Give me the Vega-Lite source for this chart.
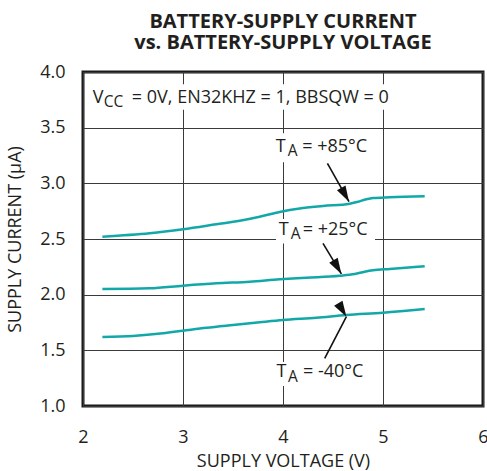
{
  "$schema": "https://vega.github.io/schema/vega-lite/v6.json",
  "width": 400,
  "height": 334,
  "autosize": {"type": "none"},
  "padding": {"left": 83, "top": 72, "right": 4, "bottom": 65},
  "background": "white",
  "title": {
    "text": ["BATTERY-SUPPLY CURRENT", "vs. BATTERY-SUPPLY VOLTAGE"],
    "font": "Open Sans",
    "fontSize": 20,
    "fontWeight": "bold",
    "color": "#231f20",
    "anchor": "middle",
    "frame": "group",
    "offset": 10,
    "lineHeight": 21
  },
  "config": {
    "view": {"stroke": "#1a1a1a", "strokeWidth": 3},
    "font": "Open Sans",
    "axis": {
      "labelFont": "Open Sans",
      "labelFontSize": 18,
      "labelColor": "#231f20",
      "titleFont": "Open Sans",
      "titleFontSize": 18,
      "titleFontWeight": "normal",
      "titleColor": "#231f20",
      "gridColor": "#3a3a3a",
      "gridWidth": 1,
      "gridOpacity": 1,
      "ticks": false,
      "domain": false,
      "labelOverlap": false,
      "labelBound": false
    }
  },
  "datasets": {
    "curves": [
      {"series": "85", "x": 2.194, "y": 2.521},
      {"series": "85", "x": 2.667, "y": 2.551},
      {"series": "85", "x": 3.0, "y": 2.587},
      {"series": "85", "x": 3.334, "y": 2.632},
      {"series": "85", "x": 3.567, "y": 2.664},
      {"series": "85", "x": 3.767, "y": 2.7},
      {"series": "85", "x": 3.967, "y": 2.743},
      {"series": "85", "x": 4.167, "y": 2.774},
      {"series": "85", "x": 4.4, "y": 2.796},
      {"series": "85", "x": 4.667, "y": 2.817},
      {"series": "85", "x": 4.75, "y": 2.835},
      {"series": "85", "x": 4.834, "y": 2.857},
      {"series": "85", "x": 4.9, "y": 2.868},
      {"series": "85", "x": 5.067, "y": 2.875},
      {"series": "85", "x": 5.417, "y": 2.884},
      {"series": "25", "x": 2.194, "y": 2.051},
      {"series": "25", "x": 2.667, "y": 2.057},
      {"series": "25", "x": 3.0, "y": 2.081},
      {"series": "25", "x": 3.334, "y": 2.102},
      {"series": "25", "x": 3.667, "y": 2.117},
      {"series": "25", "x": 3.967, "y": 2.138},
      {"series": "25", "x": 4.234, "y": 2.152},
      {"series": "25", "x": 4.567, "y": 2.17},
      {"series": "25", "x": 4.717, "y": 2.186},
      {"series": "25", "x": 4.817, "y": 2.206},
      {"series": "25", "x": 4.9, "y": 2.219},
      {"series": "25", "x": 5.067, "y": 2.231},
      {"series": "25", "x": 5.417, "y": 2.255},
      {"series": "-40", "x": 2.194, "y": 1.62},
      {"series": "-40", "x": 2.5, "y": 1.629},
      {"series": "-40", "x": 2.8, "y": 1.653},
      {"series": "-40", "x": 3.0, "y": 1.676},
      {"series": "-40", "x": 3.234, "y": 1.703},
      {"series": "-40", "x": 3.5, "y": 1.728},
      {"series": "-40", "x": 3.767, "y": 1.752},
      {"series": "-40", "x": 4.0, "y": 1.772},
      {"series": "-40", "x": 4.334, "y": 1.793},
      {"series": "-40", "x": 4.634, "y": 1.817},
      {"series": "-40", "x": 5.0, "y": 1.838},
      {"series": "-40", "x": 5.417, "y": 1.871}
    ],
    "masks": [
      {"x": 2.05, "x2": 5.09, "y": 3.66, "y2": 3.89},
      {"x": 3.89, "x2": 4.91, "y": 3.19, "y2": 3.45},
      {"x": 3.93, "x2": 4.92, "y": 2.46, "y2": 2.68},
      {"x": 3.89, "x2": 4.89, "y": 1.18, "y2": 1.395}
    ],
    "arrows": [
      {"label": "85", "x": 4.66, "y": 2.835, "x2": 4.444, "y2": 3.18},
      {"label": "25", "x": 4.584, "y": 2.186, "x2": 4.4, "y2": 2.461},
      {"label": "-40", "x": 4.634, "y": 1.802, "x2": 4.417, "y2": 1.428}
    ],
    "texts": [
      {"x": 2.097, "y": 3.719, "text": "V"},
      {"x": 2.488, "y": 3.719, "text": "= 0V, EN32KHZ = 1, BBSQW = 0"},
      {"x": 3.927, "y": 3.281, "text": "T"},
      {"x": 4.192, "y": 3.281, "text": "= +85°C"},
      {"x": 3.957, "y": 2.536, "text": "T"},
      {"x": 4.197, "y": 2.536, "text": "= +25°C"},
      {"x": 3.934, "y": 1.258, "text": "T"},
      {"x": 4.2, "y": 1.258, "text": "= -40°C"}
    ],
    "subs": [
      {"x": 2.207, "y": 3.688, "text": "CC"},
      {"x": 4.047, "y": 3.246, "text": "A"},
      {"x": 4.077, "y": 2.5, "text": "A"},
      {"x": 4.05, "y": 1.22, "text": "A"}
    ]
  },
  "encoding": {
    "x": {
      "field": "x",
      "type": "quantitative",
      "scale": {"domain": [2, 6], "nice": false, "zero": false},
      "axis": {
        "title": "SUPPLY VOLTAGE (V)",
        "values": [2, 3, 4, 5, 6],
        "format": "d",
        "grid": true,
        "labelFlush": false,
        "labelPadding": 22,
        "titlePadding": 6
      }
    },
    "y": {
      "field": "y",
      "type": "quantitative",
      "scale": {"domain": [1, 4], "nice": false, "zero": false},
      "axis": {
        "title": "SUPPLY CURRENT (µA)",
        "values": [1, 1.5, 2, 2.5, 3, 3.5, 4],
        "format": ".1f",
        "grid": true,
        "labelPadding": 18,
        "titlePadding": 15
      }
    }
  },
  "layer": [
    {
      "data": {"name": "curves"},
      "mark": {"type": "line", "color": "#13a8a8", "strokeWidth": 2.5, "interpolate": "monotone"},
      "encoding": {"detail": {"field": "series", "type": "nominal"}}
    },
    {
      "data": {"name": "masks"},
      "mark": {"type": "rect", "fill": "white", "stroke": null},
      "encoding": {
        "x2": {"field": "x2"},
        "y2": {"field": "y2"}
      }
    },
    {
      "data": {"name": "arrows"},
      "mark": {"type": "rule", "color": "#111111", "strokeWidth": 1.6},
      "encoding": {
        "x2": {"field": "x2"},
        "y2": {"field": "y2"}
      }
    },
    {
      "data": {"name": "arrows"},
      "mark": {"type": "point", "shape": "M0,0L-0.31,1L0.31,1Z", "filled": true, "color": "#111111", "opacity": 1, "size": 1000, "strokeWidth": 0},
      "encoding": {
        "angle": {
          "field": "label",
          "type": "nominal",
          "scale": {"domain": ["85", "25", "-40"], "range": [150.6, 149.1, 27.5]},
          "legend": null
        }
      }
    },
    {
      "data": {"name": "texts"},
      "mark": {"type": "text", "align": "left", "baseline": "alphabetic", "font": "Open Sans", "fontSize": 18, "color": "#231f20"},
      "encoding": {"text": {"field": "text", "type": "nominal"}}
    },
    {
      "data": {"name": "subs"},
      "mark": {"type": "text", "align": "left", "baseline": "alphabetic", "font": "Open Sans", "fontSize": 15.5, "color": "#231f20"},
      "encoding": {"text": {"field": "text", "type": "nominal"}}
    }
  ]
}
